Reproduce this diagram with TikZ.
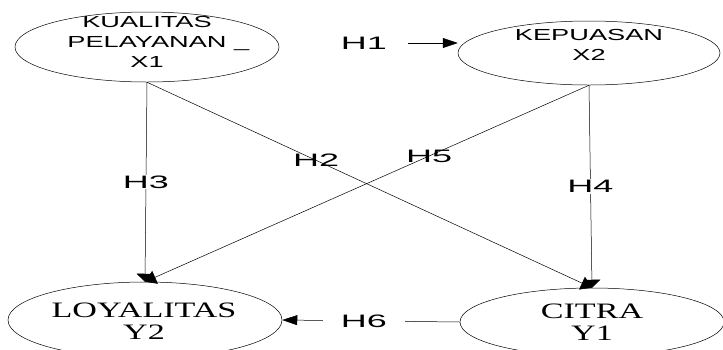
\documentclass[tikz,border=0pt]{standalone}
\usepackage{fontspec}
\usetikzlibrary{shapes.geometric,arrows.meta}
\newfontfamily\hfont[FakeStretch=1.7]{Liberation Sans}
\newfontfamily\hhfont[FakeStretch=2.0]{Liberation Sans}
\newfontfamily\vfont[FakeStretch=1.55]{Liberation Serif}
\tikzset{
  var/.style={draw, ellipse, inner sep=0pt},
  vartext/.style={align=center, inner sep=0pt},
  hyp/.style={font=\hhfont\fontsize{18}{20}\selectfont, fill=white, inner sep=1pt},
  harrow/.style={-{Triangle[length=15pt,width=10pt]}},
  varrow/.style={-{Triangle[length=8pt,width=17pt]}},
}
\begin{document}
\begin{tikzpicture}[x=1pt, y=-1pt, >={Triangle[length=11pt,width=14pt]}, line width=.5pt]
    \useasboundingbox (0,0) rectangle (723,349);

    \node[var, minimum width=264, minimum height=70] (kual) at (147,47) {};
    \node[vartext, font=\hfont\fontsize{16}{20}\selectfont] (kualtext) at (147,42) {KUALITAS\\PELAYANAN\rlap{ \_}\\X1};
    \node[var, minimum width=262, minimum height=64] (kep) at (589,53) {};
    \node[vartext, font=\hfont\fontsize{16}{20}\selectfont] (keptext) at (589,45) {KEPUASAN\\X2};
    \node[var, minimum width=274, minimum height=76] (loy) at (145,320) {};
    \node[vartext, font=\vfont\fontsize{22}{22}\selectfont] (loytext) at (144,321) {LOYALITAS\\Y2};
    \node[var, minimum width=264, minimum height=68] (cit) at (592,322) {};
    \node[vartext, font=\vfont\fontsize{22}{22}\selectfont] (cittext) at (592,322) {CITRA\\Y1};

    \node[hyp] (h1) at (364,43) {H1};
\draw[harrow] (h1.east)++(20,0) -- (kep.west |- h1);

    \draw[varrow] (kual.south) -- node[hyp]{H3} (loy.north);
    \draw[->] (kual.south) -- node[hyp, fill=none, pos=.38]{H2} (cit.north);
    \draw[->] (kep.south) -- node[hyp, fill=none, pos=.36]{H5} (loy.north);
    \draw[varrow] (kep.south) -- node[hyp]{H4} (cit.north);
    \draw[harrow] (cit.west) -- node[hyp, pos=.54, inner xsep=18pt]{H6} (loy.east);

\end{tikzpicture}
\end{document}
